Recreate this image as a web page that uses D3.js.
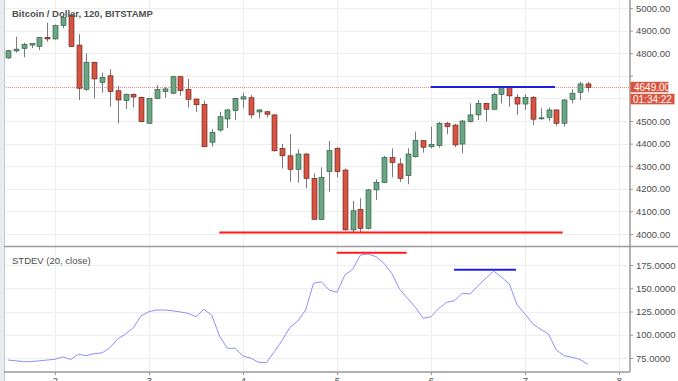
<!DOCTYPE html>
<html><head><meta charset="utf-8">
<script src="https://cdn.jsdelivr.net/npm/d3@7"></script>
<style>html,body{margin:0;padding:0;background:#fff;}svg{display:block;font-family:"Liberation Sans",Arial,sans-serif;}</style>
</head><body><svg id="c" width="678" height="381"></svg>
<script>
const startDay = 1.5, stepDay = 1/12;
const opens  = [4779,4810,4821,4836,4830,4870,4863,4922,4969,4836,4640,4760,4670,4700,4634,4590,4618,4605,4490,4600,4630,4623,4696,4640,4597,4574,4406,4460,4509,4546,4597,4603,4540,4541,4527,4379,4346,4286,4354,4246,4065,4276,4379,4283,4018,4109,4025,4195,4228,4338,4310,4258,4342,4413,4386,4391,4490,4482,4398,4497,4527,4578,4552,4618,4648,4605,4575,4605,4510,4516,4549,4490,4596,4627,4664];
const highs  = [4815,4873,4846,4845,4872,4935,4927,4965,4975,4884,4800,4762,4714,4729,4655,4622,4622,4608,4602,4659,4650,4700,4700,4686,4600,4590,4465,4541,4553,4602,4625,4615,4552,4545,4530,4398,4442,4375,4357,4268,4295,4412,4385,4290,4147,4158,4200,4242,4345,4379,4335,4379,4453,4416,4475,4496,4497,4487,4505,4578,4593,4580,4625,4652,4652,4618,4618,4610,4556,4560,4552,4596,4640,4674,4674];
const lows   = [4775,4803,4782,4822,4814,4851,4860,4910,4828,4593,4634,4600,4625,4563,4490,4553,4560,4494,4488,4597,4603,4619,4612,4560,4540,4384,4386,4453,4468,4504,4556,4512,4512,4516,4365,4290,4231,4227,4202,4063,4063,4187,4251,4016,4008,4008,4020,4150,4225,4250,4231,4220,4338,4360,4379,4383,4441,4384,4357,4493,4504,4497,4549,4578,4563,4527,4549,4482,4505,4501,4478,4475,4578,4593,4630];
const closes = [4811,4818,4839,4843,4870,4863,4922,4959,4829,4645,4760,4686,4693,4630,4593,4618,4606,4497,4600,4640,4642,4696,4634,4596,4572,4386,4450,4519,4549,4600,4607,4527,4549,4530,4368,4346,4286,4354,4246,4065,4251,4369,4276,4018,4103,4025,4195,4229,4338,4317,4246,4354,4413,4384,4397,4490,4475,4394,4500,4527,4578,4552,4618,4648,4611,4575,4605,4508,4514,4549,4490,4593,4623,4664,4649];
const stdev  = [72.8,72,71,71.2,72,72.8,73.6,76.2,73.4,79,77.5,79.8,80.4,86,95.5,100.8,107.6,120.2,125,126.6,126.6,125.8,124.5,123,119.4,127.3,121.2,98.7,85.4,85.4,77,74.8,70.4,70,81.8,94,108,114.8,126.6,155.3,157,148,145.6,164.2,170.3,185.8,186.8,183.9,176.8,166,148.8,139.2,129.5,117.7,119.4,128.4,134.9,136.6,144.6,143.8,152.7,160.7,168.5,161.8,154.6,132,122.3,111.6,105.9,100.8,83.6,77.5,75.8,73.6,68.2];
const priceTicks = [4000,4100,4200,4300,4400,4500,4600,4700,4800,4900,5000];
const stdevTicks = [75,100,125,150,175];
const dayTicks = [2,3,4,5,6,7,8];
const title = "Bitcoin / Dollar, 120, BITSTAMP";
const indTitle = "STDEV (20, close)";
const lastPrice = 4649, lastPriceLabel = "4649.00", countdown = "01:34:22";
const priceLevels = [{from:3.748,to:7.401,value:4007,color:"#ff1a1a"},{from:5.997,to:7.319,value:4650,color:"#1f1fe0"}];
const stdevLevels = [{from:4.997,to:5.741,value:188.2,color:"#ff1a1a"},{from:6.245,to:6.904,value:170,color:"#1f1fe0"}];

const svg = d3.select("#c");
const W=678,H=381, left=4, axisX=630, mainBot=246.5, lowBot=372;
const x = d3.scaleLinear().domain([2,8]).range([55,619]);
const y = d3.scaleLinear().domain([4000,5000]).range([234,8]);
const ys = d3.scaleLinear().domain([75,175]).range([358,265]);
const t = i => startDay + i*stepDay;
const gridC="#eeeeee", txtC="#4e4e4e";

svg.append("rect").attr("width",W).attr("height",H).attr("fill","#fff");
svg.append("rect").attr("x",0).attr("y",0).attr("width",left).attr("height",H).attr("fill","#e8ebf0");

// grids
const g = svg.append("g");
g.selectAll(".hg").data(priceTicks).join("line").attr("x1",left).attr("x2",axisX)
  .attr("y1",d=>Math.round(y(d))+0.5).attr("y2",d=>Math.round(y(d))+0.5).attr("stroke",gridC);
g.selectAll(".hs").data(stdevTicks).join("line").attr("class","hs").attr("x1",left).attr("x2",axisX)
  .attr("y1",d=>Math.round(ys(d))+0.5).attr("y2",d=>Math.round(ys(d))+0.5).attr("stroke",gridC);
g.selectAll(".vg").data(dayTicks).join("line").attr("class","vg")
  .attr("x1",d=>Math.round(x(d))+0.5).attr("x2",d=>Math.round(x(d))+0.5).attr("y1",0).attr("y2",lowBot).attr("stroke",gridC);

// last price dotted line
svg.append("line").attr("x1",left).attr("x2",axisX).attr("y1",Math.round(y(lastPrice))+0.5).attr("y2",Math.round(y(lastPrice))+0.5)
  .attr("stroke","#f08a80").attr("stroke-dasharray","1,1");

// candles
const idx = d3.range(closes.length);
const cg = svg.append("g");
const bw = 5;
cg.selectAll(".w").data(idx).join("line")
  .attr("x1",i=>Math.round(x(t(i)))+0.5).attr("x2",i=>Math.round(x(t(i)))+0.5)
  .attr("y1",i=>y(highs[i])).attr("y2",i=>y(lows[i])).attr("stroke","#7a7a7c");
cg.selectAll(".b").data(idx).join("rect")
  .attr("x",i=>Math.round(x(t(i)))-bw/2+0.5).attr("width",bw)
  .attr("y",i=>y(Math.max(opens[i],closes[i])))
  .attr("height",i=>Math.max(1,Math.abs(y(opens[i])-y(closes[i]))))
  .attr("fill",i=>closes[i]>=opens[i]?"#6ba583":"#d75442")
  .attr("stroke",i=>closes[i]>=opens[i]?"#225437":"#5b1a13").attr("stroke-width",0.6);

// level lines main
svg.selectAll(".pl").data(priceLevels).join("line").attr("x1",d=>x(d.from)).attr("x2",d=>x(d.to))
  .attr("y1",d=>y(d.value)).attr("y2",d=>y(d.value)).attr("stroke",d=>d.color).attr("stroke-width",2);

// stdev line
svg.append("path").datum(idx).attr("fill","none").attr("stroke","#8e8eff").attr("stroke-width",1)
  .attr("d",d3.line().x(i=>x(t(i))).y(i=>ys(stdev[i])));
svg.selectAll(".sl").data(stdevLevels).join("line").attr("x1",d=>x(d.from)).attr("x2",d=>x(d.to))
  .attr("y1",d=>ys(d.value)).attr("y2",d=>ys(d.value)).attr("stroke",d=>d.color).attr("stroke-width",2);

// frame
const frameC="#9a9a9a";
svg.append("line").attr("x1",left+0.5).attr("x2",left+0.5).attr("y1",0).attr("y2",H).attr("stroke","#c4c8d0");
svg.append("line").attr("x1",left).attr("x2",W).attr("y1",mainBot).attr("y2",mainBot).attr("stroke",frameC).attr("stroke-width",1.5);
svg.append("line").attr("x1",left).attr("x2",axisX).attr("y1",lowBot).attr("y2",lowBot).attr("stroke",frameC).attr("stroke-width",1.5);
svg.append("line").attr("x1",axisX).attr("x2",axisX).attr("y1",0).attr("y2",lowBot).attr("stroke",frameC).attr("stroke-width",1.5);

// right axes
const ax = svg.append("g").attr("transform",`translate(${axisX},0)`);
const pAxis = d3.axisRight(y).tickValues(priceTicks).tickSize(3).tickPadding(3)
  .tickFormat(d => Math.abs(y(d)-y(lastPrice)) < 16 ? "" : d3.format(".2f")(d));
ax.call(pAxis);
const sAxis = d3.axisRight(ys).tickValues(stdevTicks).tickSize(3).tickPadding(3).tickFormat(d3.format(".4f"));
ax.append("g").call(sAxis);
ax.selectAll(".domain").remove();
ax.selectAll(".tick line").attr("stroke","#9a9a9a");
ax.selectAll(".tick text").attr("fill",txtC).attr("font-size",9.5).attr("font-family","Liberation Sans, Arial, sans-serif");

// bottom axis
const bx = svg.append("g").attr("transform",`translate(0,${lowBot})`);
bx.call(d3.axisBottom(x).tickValues(dayTicks).tickSize(3).tickPadding(2).tickFormat(d3.format("d")));
bx.select(".domain").remove();
bx.selectAll(".tick line").attr("stroke","#9a9a9a");
bx.selectAll(".tick text").attr("fill",txtC).attr("font-size",9.5).attr("font-family","Liberation Sans, Arial, sans-serif");

// price labels
const ly = y(lastPrice);
svg.append("rect").attr("x",axisX+0.5).attr("y",ly-5.5).attr("width",38).attr("height",10.5).attr("fill","#d9533e");
svg.append("text").attr("x",axisX+4).attr("y",ly+3.5).attr("fill","#fff").attr("font-size",10).text(lastPriceLabel);
svg.append("rect").attr("x",axisX+0.5).attr("y",ly+6.5).attr("width",44).attr("height",10.5).attr("fill","#d9533e");
svg.append("text").attr("x",axisX+3).attr("y",ly+15.5).attr("fill","#fff").attr("font-size",10).text(countdown);

// titles
svg.append("text").attr("x",12).attr("y",17).attr("fill",txtC).attr("font-size",9.5).attr("font-weight","bold").text(title);
svg.append("text").attr("x",12).attr("y",264).attr("fill",txtC).attr("font-size",9.5).text(indTitle);
</script></body></html>
